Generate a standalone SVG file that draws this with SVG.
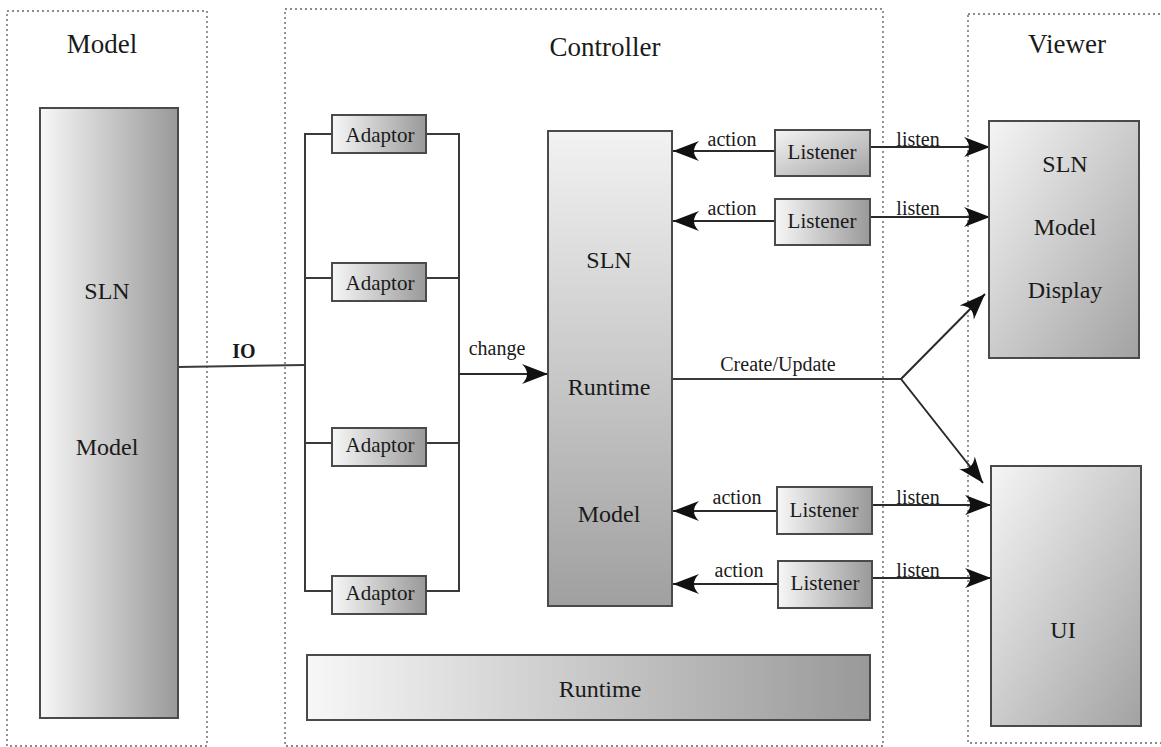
<svg xmlns="http://www.w3.org/2000/svg" width="1161" height="747" viewBox="0 0 1161 747">
  <style>
    .zone { fill: none; stroke: #666; stroke-width: 1.4; stroke-dasharray: 2 3; }
    .box { stroke: #4a4a4a; stroke-width: 2; }
    .line { fill: none; stroke: #3a3a3a; stroke-width: 2; }
    .arrow { fill: none; stroke: #2a2a2a; stroke-width: 2; marker-end: url(#head); }
    text { font-family: "Liberation Serif", "Times New Roman", serif; fill: #1a1a1a; }
    .title { font-size: 27px; text-anchor: middle; }
    .big { font-size: 24px; text-anchor: middle; }
    .mid { font-size: 21px; text-anchor: middle; }
    .lbl { font-size: 20px; text-anchor: middle; }
  </style>
  <defs>
    <linearGradient id="gH" x1="0" y1="0" x2="1" y2="0">
      <stop offset="0" stop-color="#f7f7f7"/>
      <stop offset="1" stop-color="#999"/>
    </linearGradient>
    <linearGradient id="gV" x1="0" y1="0" x2="0" y2="1">
      <stop offset="0" stop-color="#f2f2f2"/>
      <stop offset="1" stop-color="#a0a0a0"/>
    </linearGradient>
    <linearGradient id="gD" x1="0" y1="0" x2="1" y2="1">
      <stop offset="0" stop-color="#f5f5f5"/>
      <stop offset="1" stop-color="#a2a2a2"/>
    </linearGradient>
    <marker id="head" markerUnits="userSpaceOnUse" markerWidth="32" markerHeight="24" viewBox="-30 -12 32 24" refX="0" refY="0" orient="auto">
      <path d="M0,0 L-26,-10 Q-16,0 -26,10 Z" fill="#111"/>
    </marker>
  </defs>

  <!-- layer zones -->
  <g id="zones">
    <rect class="zone" x="7" y="11" width="200" height="735"/>
    <rect class="zone" x="285" y="9" width="598" height="737"/>
    <rect class="zone" x="968" y="14" width="200" height="729"/>
    <text class="title" x="102" y="53">Model</text>
    <text class="title" x="605" y="56">Controller</text>
    <text class="title" x="1067" y="53">Viewer</text>
  </g>

  <!-- connectors -->
  <g id="connectors">
    <!-- IO link -->
    <path class="line" d="M178,367 L305,365"/>
    <text x="244" y="358" font-size="20" font-weight="bold" text-anchor="middle">IO</text>
    <!-- adaptor buses -->
    <path class="line" d="M332,134 H305 V591 H332 M305,278 H332 M305,443 H332"/>
    <path class="line" d="M426,134 H459 V591 H426 M426,278 H459 M426,443 H459"/>
    <path class="arrow" d="M459,374 H548"/>
    <text class="lbl" x="497" y="355">change</text>
    <!-- listener actions -->
    <path class="arrow" d="M775,151 H673"/>
    <path class="arrow" d="M775,221 H673"/>
    <path class="arrow" d="M777,511 H673"/>
    <path class="arrow" d="M778,584 H673"/>
    <text class="lbl" x="732" y="146">action</text>
    <text class="lbl" x="732" y="215">action</text>
    <text class="lbl" x="737" y="504">action</text>
    <text class="lbl" x="739" y="577">action</text>
    <!-- listens -->
    <path class="arrow" d="M870,147 H990"/>
    <path class="arrow" d="M870,217 H990"/>
    <path class="arrow" d="M872,505 H991"/>
    <path class="arrow" d="M872,578 H991"/>
    <text class="lbl" x="918" y="146">listen</text>
    <text class="lbl" x="918" y="215">listen</text>
    <text class="lbl" x="918" y="504">listen</text>
    <text class="lbl" x="918" y="577">listen</text>
    <!-- create / update -->
    <path class="line" d="M672,379 H901"/>
    <path class="arrow" d="M901,379 L985,294"/>
    <path class="arrow" d="M901,379 L983,483"/>
    <text class="lbl" x="778" y="371">Create/Update</text>
  </g>

  <g id="sln-model">
    <rect class="box" x="40" y="108" width="138" height="610" fill="url(#gH)"/>
    <text class="big" x="107" y="299">SLN</text>
    <text class="big" x="107" y="455">Model</text>
  </g>

  <g id="adaptor-1">
    <rect class="box" x="332" y="115" width="94" height="38" fill="url(#gH)"/>
    <text class="mid" x="380" y="142">Adaptor</text>
  </g>
  <g id="adaptor-2">
    <rect class="box" x="332" y="263" width="94" height="38" fill="url(#gH)"/>
    <text class="mid" x="380" y="290">Adaptor</text>
  </g>
  <g id="adaptor-3">
    <rect class="box" x="332" y="428" width="94" height="38" fill="url(#gH)"/>
    <text class="mid" x="380" y="452">Adaptor</text>
  </g>
  <g id="adaptor-4">
    <rect class="box" x="332" y="576" width="94" height="38" fill="url(#gH)"/>
    <text class="mid" x="380" y="600">Adaptor</text>
  </g>

  <g id="sln-runtime-model">
    <rect class="box" x="548" y="131" width="124" height="475" fill="url(#gV)"/>
    <text class="big" x="609" y="268">SLN</text>
    <text class="big" x="609" y="395">Runtime</text>
    <text class="big" x="609" y="522">Model</text>
  </g>

  <g id="listener-1">
    <rect class="box" x="775" y="130" width="95" height="46" fill="url(#gD)"/>
    <text class="mid" x="822" y="159">Listener</text>
  </g>
  <g id="listener-2">
    <rect class="box" x="775" y="199" width="95" height="46" fill="url(#gH)"/>
    <text class="mid" x="822" y="228">Listener</text>
  </g>
  <g id="listener-3">
    <rect class="box" x="777" y="487" width="95" height="47" fill="url(#gH)"/>
    <text class="mid" x="824" y="517">Listener</text>
  </g>
  <g id="listener-4">
    <rect class="box" x="778" y="561" width="94" height="47" fill="url(#gH)"/>
    <text class="mid" x="825" y="590">Listener</text>
  </g>

  <g id="runtime">
    <rect class="box" x="307" y="655" width="563" height="65" fill="url(#gH)"/>
    <text class="big" x="600" y="697">Runtime</text>
  </g>

  <g id="sln-model-display">
    <rect class="box" x="989" y="121" width="150" height="237" fill="url(#gD)"/>
    <text class="big" x="1065" y="172">SLN</text>
    <text class="big" x="1065" y="235">Model</text>
    <text class="big" x="1065" y="298">Display</text>
  </g>

  <g id="ui">
    <rect class="box" x="991" y="466" width="150" height="260" fill="url(#gD)"/>
    <text class="big" x="1063" y="638">UI</text>
  </g>
</svg>
